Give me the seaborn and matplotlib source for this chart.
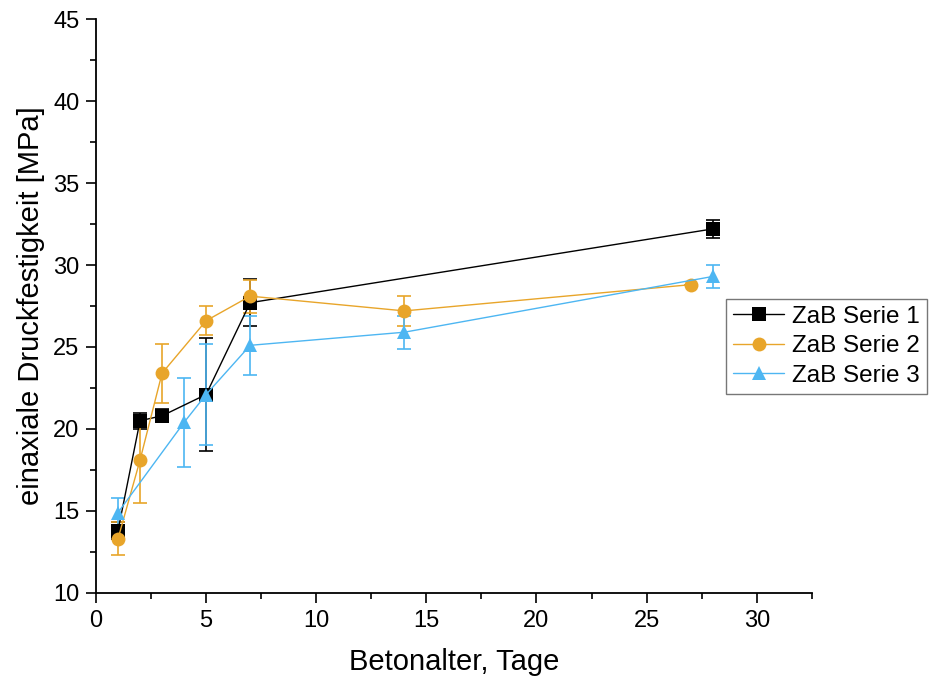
import seaborn as sns
import pandas as pd
import matplotlib.pyplot as plt

# Betonalter (Tage) und Druckfestigkeit (MPa) je Serie
days_1 = [1, 2, 3, 5, 7, 28]
mean_1 = [13.8, 20.5, 20.8, 22.1, 27.7, 32.2]
err_1 = [0.5, 0.5, 0.4, 3.45, 1.45, 0.55]

days_2 = [1, 2, 3, 5, 7, 14, 27]
mean_2 = [13.3, 18.1, 23.4, 26.6, 28.1, 27.2, 28.8]
err_2 = [1.0, 2.6, 1.8, 0.9, 1.0, 0.9, 0.0]

days_3 = [1, 4, 5, 7, 14, 28]
mean_3 = [14.9, 20.4, 22.1, 25.1, 25.9, 29.3]
err_3 = [0.9, 2.7, 3.1, 1.8, 1.0, 0.7]

series = ['ZaB Serie 1', 'ZaB Serie 2', 'ZaB Serie 3']
colors = ['#000000', '#E8A52A', '#4DB6F2']
markers = ['s', 'o', '^']

rows = []
for name, d, m, e in zip(series, [days_1, days_2, days_3], [mean_1, mean_2, mean_3], [err_1, err_2, err_3]):
    for x, y, s in zip(d, m, e):
        rows.append({'Serie': name, 'Tage': x, 'MPa': y, 'err': s})
df = pd.DataFrame(rows)

sns.set_style('ticks')
plt.rcParams['font.family'] = ['Liberation Sans', 'DejaVu Sans']
for key in ['text.color', 'axes.labelcolor', 'xtick.color', 'ytick.color', 'axes.edgecolor']:
    plt.rcParams[key] = 'black'

fig = plt.figure(figsize=(9.32, 6.83), dpi=100)
ax = fig.add_axes([0.103, 0.132, 0.768, 0.840])

# error bars first so markers sit on top
for name, c in zip(series, colors):
    sub = df[df['Serie'] == name]
    ax.errorbar(sub['Tage'], sub['MPa'], yerr=sub['err'], fmt='none',
                ecolor=c, elinewidth=1.2, capsize=5, capthick=1.2, zorder=2)

sns.lineplot(data=df, x='Tage', y='MPa', hue='Serie', style='Serie',
             palette=dict(zip(series, colors)), markers=dict(zip(series, markers)),
             dashes=False, markersize=10, markeredgewidth=0, linewidth=1.0,
             ax=ax, zorder=3, sort=False)

ax.set_xlim(0, 32.5)
ax.set_ylim(10, 45)
ax.set_xticks([0, 5, 10, 15, 20, 25, 30])
ax.set_yticks([10, 15, 20, 25, 30, 35, 40, 45])
ax.set_xticks([2.5, 7.5, 12.5, 17.5, 22.5, 27.5, 32.5], minor=True)
ax.set_yticks([12.5, 17.5, 22.5, 27.5, 32.5, 37.5, 42.5], minor=True)
ax.tick_params(which='major', length=7, width=1.2, labelsize=17, pad=5)
ax.tick_params(which='minor', length=4, width=1.2)
for sp in ['left', 'bottom']:
    ax.spines[sp].set_linewidth(1.3)
sns.despine(ax=ax)

ax.set_xlabel('Betonalter, Tage', fontsize=21, labelpad=12)
ax.set_ylabel('einaxiale Druckfestigkeit [MPa]', fontsize=21, labelpad=6)

leg = ax.legend(loc='center left', bbox_to_anchor=(0.779, 0.493), bbox_transform=fig.transFigure,
                fontsize=17.5, frameon=True, fancybox=False, edgecolor='#555555',
                handlelength=2.1, borderpad=0.3, labelspacing=0.3, handletextpad=0.3,
                borderaxespad=0)
leg.get_frame().set_linewidth(1.0)

plt.savefig('out.png', dpi=100)
